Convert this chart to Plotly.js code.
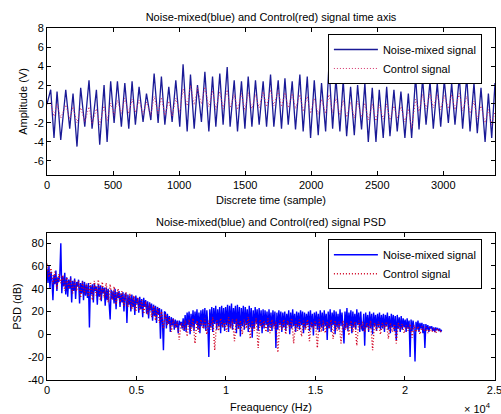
<!DOCTYPE html>
<html>
<head>
<meta charset="utf-8">
<script src="https://cdn.plot.ly/plotly-3.0.1.min.js"></script>
<style>html,body{margin:0;padding:0;background:#fff;}#chart{width:501px;height:414px;}</style>
</head>
<body>
<div id="chart"></div>
<script>
// ---------- Time-domain data (sample index, volts) ----------
const timeSamples = [0,28,53,76,104,142,172,197,227,255,286,318,341,374,399,432,455,482,508,533,563,589,619,644,669,697,727,753,786,811,841,866,892,922,947,975,1005,1030,1061,1086,1114,1139,1169,1195,1225,1253,1278,1308,1333,1364,1386,1417,1442,1472,1498,1523,1551,1578,1606,1636,1662,1692,1717,1750,1775,1801,1826,1856,1881,1914,1939,1970,1995,2023,2053,2078,2109,2134,2162,2187,2217,2242,2268,2298,2326,2351,2381,2406,2432,2462,2490,2515,2545,2571,2596,2626,2651,2679,2709,2735,2760,2790,2816,2843,2869,2899,2924,2954,2980,3007,3038,3063,3088,3121,3146,3177,3202,3232,3257,3285,3316,3341,3366,3391];
const noiseMixedTime = [0.0,1.5,-3.6,1.3,-3.8,1.5,-2.6,1.1,-4.5,1.7,-2.4,2.5,-2.6,1.5,-4.3,2.0,-4.0,2.4,-2.0,2.4,-2.4,2.2,-2.6,2.4,-2.2,1.8,-1.9,1.1,-1.7,3.2,-2.0,2.9,-2.2,1.8,-1.9,2.5,-2.4,4.2,-2.9,3.1,-2.6,2.0,-1.9,3.4,-2.9,2.9,-2.4,3.2,-2.2,3.9,-2.4,2.5,-2.9,2.4,-2.6,2.9,-2.4,2.5,-2.2,2.4,-2.4,3.1,-2.4,2.5,-2.6,2.7,-2.2,2.4,-2.7,3.1,-2.9,2.9,-3.6,2.5,-3.3,2.2,-2.9,4.1,-2.6,2.7,-2.9,2.5,-3.4,1.8,-3.3,2.0,-2.7,2.2,-4.0,1.7,-4.0,1.5,-3.6,1.8,-3.4,1.5,-2.9,1.3,-3.6,1.1,-3.6,2.9,-2.7,2.7,-2.2,2.4,-2.6,2.2,-2.4,2.5,-2.0,2.2,-2.2,2.9,-2.6,2.9,-2.9,2.2,-3.1,1.7,-4.0,1.1,-3.6,2.2];
const controlTime = [0.0,0.1,-1.3,0.0,-1.5,-0.1,-1.6,-0.3,-2.0,-0.4,-1.9,-0.3,-2.1,-0.5,-2.2,-0.2,-1.8,0.1,-1.2,0.4,-1.0,0.6,-1.0,0.5,-0.9,0.4,-1.1,0.2,-1.2,0.8,-1.0,0.7,-1.2,0.3,-1.3,0.6,-0.9,1.6,-0.2,2.0,-0.1,1.7,0.0,1.8,-0.3,1.4,-0.6,1.3,-0.5,1.5,-0.4,1.0,-0.6,1.1,-0.7,1.2,-0.5,1.0,-0.4,1.3,-0.3,1.5,-0.2,1.4,-0.3,1.2,-0.4,1.1,-0.5,1.0,-0.8,0.8,-1.0,0.6,-1.1,0.5,-1.0,1.0,-0.9,0.6,-1.2,0.4,-1.4,0.2,-1.5,0.3,-1.4,0.1,-1.7,0.0,-1.8,-0.1,-1.6,0.0,-1.7,-0.2,-1.5,-0.3,-1.9,-0.5,-2.6,0.5,-0.8,1.0,-0.5,1.1,-0.4,1.0,-0.6,0.9,-0.5,1.0,-0.6,1.1,-0.7,0.8,-1.0,0.3,-1.6,-0.2,-2.0,-0.6,-2.2,-0.8];

// ---------- PSD data (dB) ----------
// noise-mixed: one value every noiseFreqStep Hz from 0 Hz; control: every controlFreqStep Hz
const noiseFreqStep = 55.125;
const controlFreqStep = 110.25;
const noiseMixedPSD = [
  58,45,60,40,55,48,30,52,44,56,38,50,46,53,80,36,51,42,54,35,
  50,33,48,40,51,28,47,38,49,31,46,42,48,27,45,36,47,30,46,34,
  44,32,45,6,43,35,44,28,45,38,42,26,44,33,43,29,42,36,41,25,
  41,30,40,24,13,39,31,38,27,40,22,37,32,38,24,36,28,37,20,35,
  36,10,35,26,34,20,35,24,33,17,34,27,32,19,33,22,31,15,32,24,
  30,18,29,14,28,21,27,12,26,16,25,10,24,18,23,-4,22,12,-14,20,
  19,5,18,9,16,2,15,8,14,4,13,6,12,1,12,8,11,5,14,3,
  17,2,19,8,20,0,18,6,21,3,20,9,22,4,19,1,21,7,22,5,
  23,3,21,8,-20,22,6,24,2,23,9,25,4,22,7,24,1,25,6,23,
  3,24,8,26,2,25,6,27,4,23,9,25,1,26,5,24,-2,23,7,25,
  4,24,8,22,2,25,6,23,-3,21,5,24,9,22,3,23,7,21,1,22,
  5,21,8,20,2,22,6,19,3,21,7,20,-12,19,4,21,8,20,2,19,
  6,20,3,18,8,21,0,19,5,22,7,18,2,20,6,19,4,21,8,20,
  1,19,5,18,8,20,3,21,6,18,-1,19,7,20,4,18,2,21,6,19,
  3,21,7,18,-5,20,5,22,2,19,8,21,0,20,6,18,4,22,7,19,
  2,-8,20,5,23,3,19,7,21,1,20,6,18,4,22,8,19,2,20,5,
  3,18,-10,19,6,17,2,20,5,18,0,19,7,17,3,18,6,19,4,17,
  5,18,2,17,7,19,4,16,1,18,6,17,3,16,-5,17,5,15,2,16,
  4,14,6,13,2,14,5,12,-20,13,3,12,6,-24,11,4,12,2,10,5,
  10,1,9,-12,9,4,8,2,7,5,7,3,6,2,6,4,5,3,5,2,
  4];
const controlPSD = [62,50,58,44,55,40,53,45,52,38,
  50,40,49,36,48,38,47,32,46,35,
  45,33,46,30,47,34,48,30,46,32,
  45,28,44,30,42,26,40,28,38,25,
  37,24,36,22,34,20,32,21,30,18,
  29,17,27,15,25,12,23,10,20,5,
  18,8,15,2,13,6,11,-5,10,4,
  12,-2,13,3,14,-8,12,2,13,5,
  14,0,12,4,15,-14,13,3,14,6,
  12,2,15,5,13,-6,14,4,12,0,
  13,5,15,-4,12,3,14,-12,13,6,
  12,2,14,1,13,5,11,-16,12,4,
  13,0,12,5,14,-8,11,3,13,-2,
  12,4,13,-6,11,5,12,-12,13,2,
  12,1,11,5,13,-4,12,3,11,-8,
  12,4,10,-1,12,2,11,-10,12,5,
  11,2,10,4,12,-14,10,3,11,0,
  10,5,11,-4,10,2,9,-8,10,4,
  9,1,8,3,9,-3,8,2,7,0,
  7,3,6,1,6,2,5,1,5,2,3];

// ---------- Axis ticks ----------
const timeTicks = [0,500,1000,1500,2000,2500,3000];
const ampTicks = [-6,-4,-2,0,2,4,6,8];
const ampTickText = ['-6','-4','-2','0','2','4','6','8'];
const freqTicks = [0,5000,10000,15000,20000,25000];
const freqTickText = ['0','0.5','1','1.5','2','2.5'];
const psdTicks = [-40,-20,0,20,40,60,80];
const psdTickText = ['-40','-20','0','20','40','60','80'];

const FONT = 'Liberation Sans, Arial, sans-serif';
const axisBase = {
  showline: true, linecolor: '#000', linewidth: 1, mirror: 'ticks',
  ticks: 'inside', ticklen: 4, tickcolor: '#000', tickwidth: 1,
  showgrid: false, zeroline: false, ticklabeloverflow: 'allow',
  tickfont: {family: FONT, size: 11, color: '#000'}
};

const traces = [
  {x: timeSamples, y: noiseMixedTime, type: 'scatter', mode: 'lines', name: 'Noise-mixed signal',
   line: {color: '#1a1a96', width: 1.3}, xaxis: 'x', yaxis: 'y', legend: 'legend'},
  {x: timeSamples, y: controlTime, type: 'scatter', mode: 'lines', name: 'Control signal',
   line: {color: '#d4306a', width: 1, dash: '1px,2px'}, xaxis: 'x', yaxis: 'y', legend: 'legend'},
  {x0: 0, dx: noiseFreqStep, y: noiseMixedPSD, type: 'scatter', mode: 'lines', name: 'Noise-mixed signal',
   line: {color: '#0000ff', width: 1.4}, xaxis: 'x2', yaxis: 'y2', legend: 'legend2'},
  {x0: 0, dx: controlFreqStep, y: controlPSD, type: 'scatter', mode: 'lines', name: 'Control signal',
   line: {color: '#d00020', width: 1.4, dash: '1px,2px'}, xaxis: 'x2', yaxis: 'y2', legend: 'legend2'}
];

const legendBase = {
  xref: 'paper', yref: 'paper', xanchor: 'left', yanchor: 'top',
  bgcolor: '#fff', bordercolor: '#000', borderwidth: 1, itemwidth: 44,
  font: {family: FONT, size: 11, color: '#000'}, tracegroupgap: 0
};

const layout = {
  width: 501, height: 414,
  margin: {l: 47, r: 6, t: 28, b: 34},
  paper_bgcolor: '#fff', plot_bgcolor: '#fff',
  font: {family: FONT, size: 11, color: '#000'},
  title: {text: 'Noise-mixed(blue) and Control(red) signal time axis',
          font: {family: FONT, size: 11, color: '#000'},
          xref: 'paper', x: 0.5, xanchor: 'center', yref: 'container', y: 0.959, yanchor: 'middle'},
  xaxis: Object.assign({}, axisBase, {domain: [0, 1], range: [0, 3391], tickvals: timeTicks, anchor: 'y',
          title: {text: 'Discrete time (sample)', font: {family: FONT, size: 11, color: '#000'}, standoff: 6}}),
  yaxis: Object.assign({}, axisBase, {domain: [0.5824, 1], range: [-7.5, 8.02], tickvals: ampTicks, ticktext: ampTickText, anchor: 'x',
          title: {text: 'Amplitude (V)', font: {family: FONT, size: 11, color: '#000'}, standoff: 4}}),
  xaxis2: Object.assign({}, axisBase, {domain: [0, 1], range: [0, 25030], tickvals: freqTicks, ticktext: freqTickText, anchor: 'y2',
          title: {text: 'Freaquency (Hz)', font: {family: FONT, size: 11, color: '#000'}, standoff: 8}}),
  yaxis2: Object.assign({}, axisBase, {domain: [0, 0.4176], range: [-40.2, 89], tickvals: psdTicks, ticktext: psdTickText, anchor: 'x2',
          title: {text: 'PSD (dB)', font: {family: FONT, size: 11, color: '#000'}, standoff: 4}}),
  legend: Object.assign({}, legendBase, {x: 0.627, y: 0.983}),
  legend2: Object.assign({}, legendBase, {x: 0.627, y: 0.4}),
  annotations: [
    {text: 'Noise-mixed(blue) and Control(red) signal PSD', xref: 'paper', yref: 'paper', x: 0.5, y: 0.449,
     xanchor: 'center', yanchor: 'middle', showarrow: false, font: {family: FONT, size: 11, color: '#000'}},
    {text: '× 10<sup>4</sup>', xref: 'paper', yref: 'paper', x: 0.96, y: -0.0795,
     xanchor: 'center', yanchor: 'middle', showarrow: false, font: {family: FONT, size: 11, color: '#000'}}
  ]
};

Plotly.newPlot('chart', traces, layout, {staticPlot: true, displayModeBar: false});
</script>
</body>
</html>
